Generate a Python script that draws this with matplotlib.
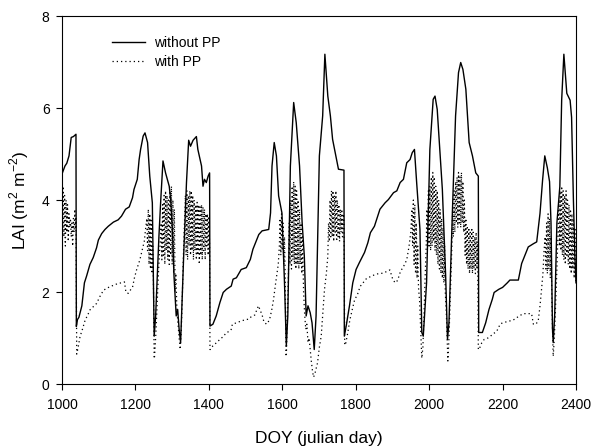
import matplotlib
matplotlib.use('Agg')
import matplotlib.pyplot as plt

# 字体设置
plt.rcParams['font.family'] = ['Liberation Sans', 'DejaVu Sans']
plt.rcParams['mathtext.fontset'] = 'custom'
plt.rcParams['mathtext.rm'] = 'Liberation Sans'

# without PP (实线)
doy_wo = [1001, 1008, 1013, 1019, 1025, 1031, 1038, 1039, 1042, 1046, 1054, 1061, 1067, 1076, 1085,
          1094, 1099, 1108, 1117, 1126, 1140, 1153, 1162, 1173, 1183, 1192, 1196, 1205, 1210, 1214,
          1221, 1226, 1233, 1239, 1246, 1251, 1255, 1264, 1269, 1275, 1282, 1292, 1296, 1301, 1305,
          1311, 1315, 1319, 1323, 1332, 1339, 1345, 1350, 1357, 1366, 1370, 1380, 1384, 1388, 1393,
          1398, 1402, 1403, 1411, 1420, 1430, 1439, 1448, 1461, 1466, 1475, 1488, 1502, 1513, 1520,
          1527, 1536, 1545, 1563, 1568, 1572, 1578, 1584, 1590, 1599, 1606, 1611, 1615, 1622, 1631,
          1638, 1647, 1654, 1660, 1665, 1670, 1676, 1681, 1687, 1692, 1701, 1710, 1716, 1724, 1731,
          1737, 1746, 1753, 1768, 1769, 1774, 1783, 1792, 1801, 1810, 1824, 1833, 1840, 1851, 1858,
          1866, 1880, 1889, 1903, 1912, 1921, 1930, 1939, 1948, 1954, 1960, 1966, 1975, 1980, 1984,
          1993, 2002, 2011, 2016, 2022, 2030, 2036, 2045, 2050, 2054, 2063, 2072, 2080, 2086, 2092,
          2100, 2109, 2118, 2127, 2134, 2135, 2145, 2154, 2163, 2172, 2177, 2190, 2200, 2213, 2220,
          2243, 2252, 2270, 2284, 2293, 2302, 2309, 2315, 2322, 2328, 2332, 2336, 2338, 2342, 2348,
          2356, 2361, 2367, 2375, 2384, 2388, 2393, 2397, 2400]
lai_wo = [4.59, 4.74, 4.8, 4.96, 5.36, 5.38, 5.43, 1.25, 1.4, 1.45, 1.7, 2.2, 2.35, 2.6, 2.75,
          2.96, 3.13, 3.27, 3.36, 3.43, 3.52, 3.57, 3.65, 3.8, 3.85, 4.05, 4.23, 4.45, 4.88, 5.1,
          5.39, 5.46, 5.25, 4.52, 3.94, 1.04, 1.48, 3.22, 4.01, 4.85, 4.59, 4.3, 4.01, 3.29, 2.35,
          1.48, 1.62, 1.19, 0.9, 2.93, 4.38, 5.3, 5.17, 5.3, 5.38, 5.1, 4.74, 4.3, 4.45, 4.38,
          4.52, 4.59, 1.26, 1.3, 1.48, 1.77, 1.99, 2.06, 2.13, 2.28, 2.31, 2.49, 2.53, 2.71, 2.93,
          3.07, 3.25, 3.33, 3.36, 3.72, 4.74, 5.25, 4.96, 4.09, 3.72, 2.2, 0.83, 1.48, 4.74, 6.12,
          5.68, 4.74, 3.51, 2.78, 1.48, 1.7, 1.55, 1.33, 0.75, 1.48, 4.96, 5.83, 7.17, 6.26, 5.83,
          5.32, 4.96, 4.67, 4.65, 1.04, 1.26, 1.7, 2.2, 2.49, 2.64, 2.86, 3.07, 3.29, 3.43, 3.6,
          3.8, 3.94, 4.01, 4.16, 4.2, 4.38, 4.45, 4.81, 4.88, 5.03, 5.1, 4.38, 3.36, 1.12, 1.04,
          2.2, 5.1, 6.19, 6.26, 5.97, 4.96, 4.23, 2.35, 0.97, 1.33, 3.65, 5.83, 6.77, 6.99, 6.84,
          6.41, 5.25, 4.96, 4.59, 4.52, 1.12, 1.12, 1.33, 1.62, 1.84, 1.99, 2.06, 2.1, 2.2, 2.26,
          2.26, 2.62, 2.98, 3.05, 3.09, 3.71, 4.43, 4.96, 4.7, 4.4, 3.5, 1.2, 0.9, 1.5, 3.5,
          4.29, 6.17, 7.17, 6.32, 6.17, 5.8, 4.0, 2.8, 2.2]

# with PP (点线)
doy_w = [1001, 1003, 1005, 1007, 1009, 1011, 1013, 1015, 1017, 1019, 1021, 1023, 1025, 1027, 1029,
         1031, 1033, 1035, 1037, 1038,
         1040, 1044, 1049, 1056, 1063, 1070, 1076, 1085, 1094, 1103, 1113, 1122, 1131, 1142, 1153,
         1163, 1170, 1174, 1180, 1186, 1192, 1197, 1203, 1208, 1212, 1218, 1224, 1228, 1231, 1233,
         1235, 1237, 1239, 1241, 1243, 1245, 1247, 1249, 1251,
         1252, 1255, 1258, 1262, 1265, 1267, 1270, 1272, 1274, 1276, 1278, 1280, 1282, 1284, 1286,
         1288, 1290, 1292, 1294, 1296, 1298, 1300, 1302, 1304, 1306, 1308, 1310, 1313, 1316, 1319,
         1322, 1325, 1328, 1331, 1334,
         1336, 1338, 1340, 1342, 1344, 1346, 1348, 1350, 1352, 1354, 1356, 1358, 1360, 1362, 1364,
         1366, 1368, 1370, 1372, 1374, 1376, 1378, 1380, 1382, 1384, 1386, 1388, 1390, 1392, 1394,
         1396, 1398, 1400, 1402, 1403,
         1404, 1411, 1421, 1430, 1439, 1448, 1458, 1461, 1464, 1475, 1488, 1500, 1509, 1515, 1525,
         1530, 1535, 1540, 1545, 1550, 1557, 1565, 1571, 1576, 1582, 1589, 1592, 1594, 1596, 1598,
         1600, 1602, 1604, 1606, 1608, 1610,
         1611, 1614, 1617, 1619, 1621, 1623, 1625, 1627, 1629, 1631, 1633, 1635, 1637, 1639, 1641,
         1643, 1645, 1647, 1649, 1651, 1653, 1655, 1658, 1661, 1664, 1667, 1670, 1673, 1676, 1679,
         1682, 1685, 1688, 1691, 1696, 1701, 1706, 1710, 1715, 1720, 1724, 1726, 1728, 1730, 1732,
         1734, 1736, 1738, 1740, 1742, 1744, 1746, 1748, 1750, 1752, 1754, 1756, 1758, 1760, 1762,
         1764, 1766, 1768, 1770,
         1772, 1778, 1784, 1790, 1797, 1805, 1812, 1820, 1830, 1839, 1850, 1862, 1875, 1885, 1893,
         1900, 1907, 1914, 1922, 1930, 1939, 1945, 1950, 1953, 1955, 1957, 1959, 1961, 1963, 1965,
         1967, 1969, 1971, 1974, 1977, 1980,
         1983, 1986, 1989, 1992, 1994, 1996, 1998, 2000, 2002, 2004, 2006, 2008, 2010, 2012, 2014,
         2016, 2018, 2020, 2022, 2024, 2026, 2028, 2030, 2032, 2034, 2036, 2038, 2040, 2042, 2044,
         2047, 2051,
         2054, 2058, 2062, 2064, 2066, 2068, 2070, 2072, 2074, 2076, 2078, 2080, 2082, 2084, 2086,
         2088, 2090, 2092, 2094, 2096, 2098, 2100, 2102, 2104, 2106, 2108, 2110, 2112, 2114, 2116,
         2118, 2120, 2122, 2124, 2126, 2128, 2130, 2132, 2134,
         2136, 2143, 2150, 2160, 2166, 2175, 2181, 2188, 2193, 2200, 2210, 2220, 2229, 2240, 2256,
         2270, 2279, 2284, 2290, 2297, 2302, 2306, 2310, 2313, 2316, 2318, 2320, 2322, 2324, 2326,
         2328, 2330, 2332, 2334, 2336, 2338,
         2341, 2344, 2348, 2351, 2353, 2355, 2357, 2359, 2361, 2363, 2365, 2367, 2369, 2371, 2373,
         2375, 2377, 2379, 2381, 2383, 2385, 2387, 2389, 2391, 2393, 2395, 2397, 2399, 2400]
lai_w = [3.6, 4.3, 3.2, 4.1, 3.0, 4.0, 3.3, 3.9, 3.1, 3.7, 3.4, 3.6, 3.2, 3.5, 3.0,
         3.6, 3.3, 3.8, 3.4, 3.6,
         0.65, 0.8, 1.03, 1.2, 1.39, 1.5, 1.61, 1.68, 1.75, 1.9, 2.04, 2.08, 2.12, 2.15, 2.19,
         2.2, 2.22, 2.0, 1.97, 2.04, 2.1, 2.3, 2.48, 2.6, 2.7, 2.9, 3.1, 3.4, 3.6, 2.9,
         3.8, 2.6, 3.7, 2.5, 3.6, 2.4, 3.0, 2.2, 0.55,
         0.6, 1.0, 1.53, 2.3, 2.8, 3.0, 3.5, 2.7, 3.9, 2.8, 4.1, 2.6, 4.2, 2.9, 4.1,
         2.7, 4.0, 2.6, 4.2, 2.8, 4.3, 2.6, 4.0, 2.4, 3.8, 2.0, 2.4, 1.6, 1.3, 1.0,
         0.75, 1.2, 2.0, 2.9, 3.6,
         4.1, 2.8, 4.2, 2.7, 4.1, 3.0, 4.2, 2.8, 4.2, 2.9, 4.1, 2.7, 4.0, 2.9, 3.9,
         2.7, 3.95, 2.8, 3.9, 2.6, 3.85, 2.8, 3.9, 2.7, 3.85, 2.9, 3.8, 2.7, 3.7, 3.0,
         3.7, 2.8, 3.65, 3.0, 0.75,
         0.75, 0.83, 0.9, 0.97, 1.03, 1.12, 1.15, 1.19, 1.3, 1.33, 1.37, 1.4, 1.41, 1.46, 1.5,
         1.6, 1.7, 1.6, 1.5, 1.35, 1.3, 1.39, 1.6, 1.83, 2.2, 2.6, 3.0, 3.6, 2.8, 3.7,
         2.9, 3.5, 2.6, 3.2, 2.3, 0.6,
         0.6, 1.5, 2.5, 3.5, 2.6, 4.0, 2.5, 4.3, 2.7, 4.4, 2.6, 4.3, 2.5, 4.2, 2.6,
         4.0, 2.5, 3.8, 2.6, 3.5, 2.4, 3.2, 2.0, 1.5, 1.19, 1.3, 0.9, 1.0, 0.75, 0.5,
         0.3, 0.15, 0.2, 0.3, 0.46, 0.8, 1.04, 1.5, 2.06, 2.4, 2.78, 3.5, 3.1, 4.0, 3.2,
         4.2, 3.2, 4.2, 3.1, 4.1, 3.3, 4.2, 3.1, 4.0, 3.2, 3.9, 3.1, 3.8, 3.3, 3.8,
         3.2, 3.7, 3.6, 0.85,
         0.85, 1.1, 1.39, 1.6, 1.83, 1.95, 2.12, 2.2, 2.3, 2.33, 2.37, 2.4, 2.41, 2.45, 2.48,
         2.3, 2.2, 2.25, 2.45, 2.55, 2.7, 2.98, 3.3, 3.8, 3.0, 4.0, 2.6, 3.9, 2.4, 3.5,
         2.3, 3.0, 2.1, 1.8, 1.2, 0.56,
         0.8, 1.5, 2.3, 3.0, 3.8, 3.0, 4.2, 3.0, 4.3, 2.9, 4.5, 3.0, 4.6, 3.1, 4.5,
         2.9, 4.3, 2.8, 4.2, 2.6, 4.0, 2.5, 3.8, 2.4, 3.6, 2.3, 3.4, 2.2, 3.0, 2.0,
         1.5, 0.5,
         1.0, 2.0, 3.0, 3.8, 3.2, 4.2, 3.3, 4.4, 3.5, 4.5, 3.4, 4.6, 3.5, 4.5, 3.4,
         4.6, 3.5, 4.4, 3.3, 4.0, 2.8, 3.6, 2.6, 3.4, 2.5, 3.4, 2.4, 3.3, 2.5, 3.4,
         2.4, 3.3, 2.5, 3.2, 2.4, 3.3, 2.5, 3.1, 0.75,
         0.75, 0.89, 0.97, 1.0, 1.03, 1.1, 1.12, 1.2, 1.3, 1.33, 1.35, 1.37, 1.39, 1.45, 1.53,
         1.53, 1.53, 1.3, 1.3, 1.36, 1.7, 2.04, 2.41, 2.9, 3.2, 2.5, 3.5, 2.4, 3.7, 2.5,
         3.6, 2.3, 3.2, 2.0, 1.2, 0.6,
         1.0, 1.61, 2.5, 3.3, 4.0, 3.0, 4.2, 2.9, 4.3, 2.8, 4.2, 2.7, 4.1, 2.6, 4.2,
         2.8, 4.0, 2.6, 3.9, 2.5, 3.8, 2.4, 3.7, 2.5, 3.6, 2.3, 3.4, 2.3, 2.2]

x_ticks = [1000, 1200, 1400, 1600, 1800, 2000, 2200, 2400]
y_ticks = [0, 2, 4, 6, 8]

fig = plt.figure(figsize=(5.93, 4.46), dpi=100)
ax = fig.add_axes([0.1046, 0.139, 0.8667, 0.825])

ax.plot(doy_wo, lai_wo, color='black', linewidth=1.0, linestyle='-', label='without PP')
ax.plot(doy_w, lai_w, color='black', linewidth=0.9, linestyle=(0, (1, 2.4)), label='with PP')

ax.set_xlim(1000, 2400)
ax.set_ylim(0, 8)
ax.set_xticks(x_ticks)
ax.set_yticks(y_ticks)
ax.tick_params(direction='out', length=4, width=0.8, labelsize=10, top=False, right=False)
ax.tick_params(axis='x', pad=6)
ax.tick_params(axis='y', pad=5)
for s in ax.spines.values():
    s.set_linewidth(0.8)

ax.set_xlabel('DOY (julian day)', fontsize=12.5, labelpad=14)
ax.set_ylabel('LAI (m$^{\\mathregular{2}}$ m$^{\\mathregular{-2}}$)', fontsize=12.5, labelpad=8)

ax.legend(loc='upper left', bbox_to_anchor=(0.097, 0.945), frameon=False, fontsize=10,
          handlelength=2.4, handletextpad=0.6, labelspacing=0.35, borderpad=0, borderaxespad=0)

fig.savefig('out.png', dpi=100)
